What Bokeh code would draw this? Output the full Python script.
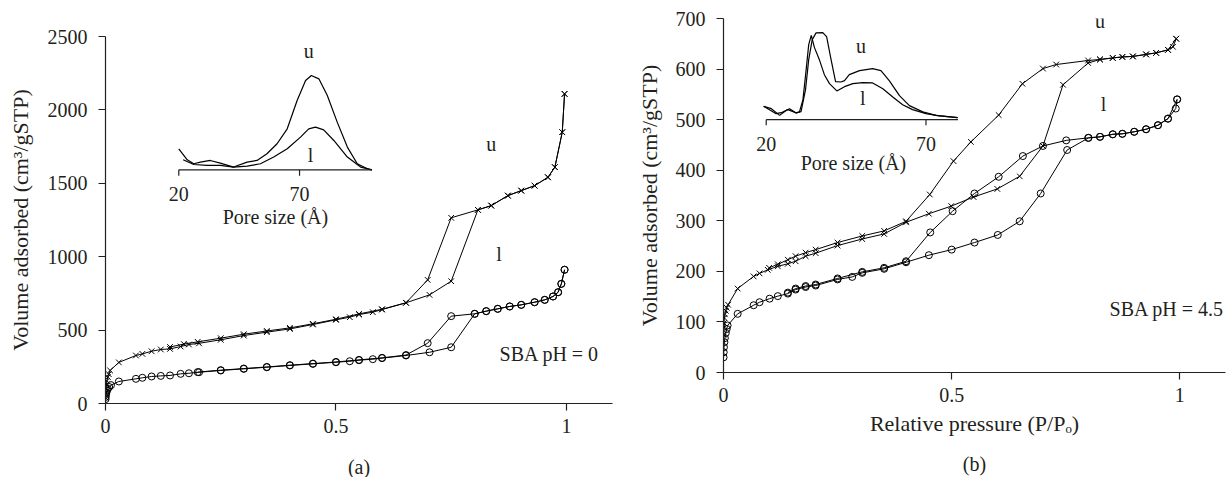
from bokeh.plotting import figure
from bokeh.models import Range1d, FixedTicker, LinearAxis
from bokeh.layouts import row
from bokeh.embed import file_html
from bokeh.resources import INLINE
from bokeh.core.properties import value

FONT = "Liberation Serif"
INK = "#231f20"
FS = "20px"
FS_AX = "22px"

# ---------------- data: panel (a) SBA pH = 0 ----------------
a_u_ads_x = [0.0002, 0.0005, 0.001, 0.002, 0.003, 0.005, 0.007, 0.01, 0.029, 0.066, 0.08, 0.1, 0.12, 0.14,
             0.163, 0.181, 0.203, 0.25, 0.3, 0.35, 0.4, 0.45, 0.5, 0.53, 0.55, 0.58, 0.6, 0.652, 0.703, 0.75,
             0.808, 0.837, 0.873, 0.902, 0.931, 0.96, 0.975, 0.991, 0.996]
a_u_ads_y = [40, 70, 100, 130, 155, 180, 200, 225, 280, 327, 338, 356, 368, 372,
             388, 402, 410, 434, 463, 486, 508, 538, 570, 588, 606, 622, 640, 686, 740, 833,
             1319, 1348, 1416, 1450, 1484, 1541, 1610, 1848, 2109]
a_u_des_x = [0.996, 0.991, 0.975, 0.96, 0.931, 0.902, 0.873, 0.837, 0.808, 0.75, 0.699, 0.652, 0.6,
             0.55, 0.5, 0.45, 0.4, 0.35, 0.3, 0.25, 0.2, 0.17, 0.14]
a_u_des_y = [2109, 1848, 1610, 1541, 1484, 1450, 1416, 1348, 1319, 1265, 842, 686, 642,
             610, 574, 543, 515, 494, 472, 445, 420, 405, 385]
a_l_ads_x = [0.0002, 0.0005, 0.001, 0.002, 0.003, 0.005, 0.008, 0.012, 0.029, 0.066, 0.08, 0.1, 0.12, 0.14,
             0.163, 0.181, 0.203, 0.25, 0.3, 0.35, 0.4, 0.45, 0.5, 0.53, 0.55, 0.58, 0.6, 0.652, 0.703, 0.75,
             0.801, 0.826, 0.851, 0.877, 0.902, 0.931, 0.953, 0.971, 0.982, 0.989, 0.996]
a_l_ads_y = [30, 45, 60, 75, 88, 100, 112, 125, 150, 168, 175, 184, 188, 191,
             202, 206, 213, 225, 236, 247, 259, 270, 281, 288, 295, 302, 309, 327, 349, 383,
             611, 629, 645, 661, 672, 690, 706, 729, 758, 815, 911]
a_l_des_x = [0.996, 0.989, 0.982, 0.971, 0.953, 0.931, 0.902, 0.877, 0.851, 0.826, 0.801, 0.75, 0.699,
             0.652, 0.6, 0.55, 0.5, 0.45, 0.4, 0.35, 0.3, 0.25, 0.2]
a_l_des_y = [911, 815, 758, 729, 706, 690, 672, 661, 645, 629, 611, 595, 411,
             330, 311, 297, 283, 272, 261, 249, 238, 227, 214]

# inset (a): pore size distribution (arbitrary units)
a_psd_u_x = [20, 23.5, 26.2, 29, 33, 37.2, 42.7, 48.3, 52.4, 56.5, 60.7, 64.9, 69, 72.5, 74.9, 78,
             81.5, 85.6, 89.8, 93.9, 98.1, 100]
a_psd_u_y = [0.223, 0.106, 0.064, 0.082, 0.099, 0.071, 0.029, 0.082, 0.099, 0.17, 0.276, 0.435, 0.735,
             0.947, 1.0, 0.965, 0.788, 0.506, 0.241, 0.064, 0.011, 0.0]
a_psd_l_x = [21.8, 26.2, 31.7, 37.2, 42.7, 48.3, 53.8, 59.3, 64.9, 70.4, 73.8, 76.6, 80, 84.2, 89.8,
             95.3, 100]
a_psd_l_y = [0.106, 0.056, 0.046, 0.046, 0.029, 0.039, 0.064, 0.135, 0.223, 0.347, 0.435, 0.453, 0.424,
             0.311, 0.135, 0.029, 0.0]

# ---------------- data: panel (b) SBA pH = 4.5 ----------------
b_u_ads_x = [0.0002, 0.0005, 0.001, 0.002, 0.003, 0.005, 0.007, 0.01, 0.031, 0.066, 0.079, 0.097, 0.119,
             0.141, 0.158, 0.18, 0.202, 0.25, 0.304, 0.352, 0.4, 0.45, 0.499, 0.548, 0.6, 0.649, 0.7, 0.744,
             0.799, 0.825, 0.853, 0.874, 0.897, 0.926, 0.948, 0.974, 0.985, 0.992]
b_u_ads_y = [75, 88, 98, 108, 115, 122, 128, 134, 166, 190, 196, 203, 210,
             215, 220, 230, 236, 251, 264, 274, 297, 314, 329, 347, 363, 388, 448, 569,
             612, 619, 622, 624, 625, 629, 632, 638, 644, 660]
b_u_des_x = [0.992, 0.974, 0.948, 0.926, 0.897, 0.874, 0.853, 0.825, 0.799, 0.729, 0.7, 0.655, 0.603,
             0.542, 0.504, 0.452, 0.4, 0.352, 0.304, 0.25, 0.202, 0.18, 0.158, 0.141, 0.119, 0.1]
b_u_des_y = [660, 638, 632, 629, 625, 624, 622, 619, 617, 609, 601, 571, 509,
             456, 418, 352, 299, 280, 270, 257, 243, 237, 230, 223, 214, 207]
b_l_ads_x = [0.0002, 0.0005, 0.001, 0.002, 0.003, 0.005, 0.007, 0.009, 0.031, 0.066, 0.079, 0.101, 0.119,
             0.141, 0.158, 0.18, 0.202, 0.25, 0.282, 0.304, 0.352, 0.4, 0.45, 0.5, 0.55, 0.601, 0.649,
             0.695, 0.753, 0.8, 0.825, 0.853, 0.874, 0.9, 0.926, 0.952, 0.974, 0.991, 0.994]
b_l_ads_y = [30, 40, 50, 60, 68, 78, 86, 93, 116, 133, 139, 146, 151,
             156, 164, 169, 172, 184, 189, 197, 205, 218, 232, 243, 257, 272, 299,
             354, 440, 464, 466, 471, 472, 476, 481, 489, 502, 522, 540]
b_l_des_x = [0.994, 0.974, 0.952, 0.926, 0.9, 0.874, 0.853, 0.825, 0.799, 0.751, 0.7, 0.656, 0.603,
             0.55, 0.502, 0.453, 0.4, 0.352, 0.304, 0.25, 0.202, 0.18, 0.158, 0.141]
b_l_des_y = [540, 502, 489, 481, 476, 472, 471, 466, 464, 459, 448, 428, 387,
             354, 319, 277, 220, 207, 199, 186, 174, 171, 166, 158]

# inset (b)
b_psd_u_x = [19.2, 20.5, 23.1, 24.7, 26.8, 29.4, 30.9, 32.3, 33.3, 34.4, 35.6, 37.7, 38.9, 40.3, 41.7,
             43.4, 44.5, 46, 49.2, 53.3, 55.9, 58.5, 61.7, 64.8, 69, 73.1, 79.9]
b_psd_u_y = [0.153, 0.126, 0.069, 0.08, 0.115, 0.077, 0.092, 0.345, 0.69, 0.92, 0.997, 1.0, 0.954, 0.69,
             0.437, 0.433, 0.448, 0.517, 0.563, 0.586, 0.563, 0.448, 0.276, 0.161, 0.089, 0.049, 0.023]
b_psd_l_x = [19.2, 21.6, 24.2, 26.3, 27.3, 29.4, 30.4, 31.5, 32.5, 33.3, 34.1, 35.1, 36.7, 38.2, 39.8,
             42.1, 44.5, 47.1, 50.2, 53.3, 56.5, 59.6, 62.7, 65.8, 70, 74.2, 79.9]
b_psd_l_y = [0.153, 0.126, 0.049, 0.107, 0.126, 0.077, 0.089, 0.23, 0.575, 0.862, 0.969, 0.828, 0.682,
             0.517, 0.414, 0.33, 0.379, 0.414, 0.425, 0.422, 0.356, 0.261, 0.172, 0.115, 0.069, 0.043, 0.023]

x_ticks = [0, 0.5, 1]
x_tick_labels = {0: "0", 0.5: "0.5", 1: "1"}
a_y_ticks = [0, 500, 1000, 1500, 2000, 2500]
b_y_ticks = [0, 100, 200, 300, 400, 500, 600, 700]
inset_ticks = [20, 70]
inset_tick_labels = ["20", "70"]
a_inset_span = [20, 100]
b_inset_span = [20, 80]


def style_axes(p, ylabel, xlabel, ylab_standoff, xlab_size, xlab_standoff):
    p.outline_line_color = None
    p.grid.visible = False
    p.background_fill_color = "white"
    for ax in (p.xaxis[0], p.yaxis[0]):
        ax.axis_line_color = INK
        ax.axis_line_width = 1.2
        ax.major_tick_line_color = INK
        ax.major_tick_line_width = 1.2
        ax.major_tick_in = 0
        ax.major_tick_out = 7
        ax.minor_tick_line_color = None
        ax.major_label_text_font = FONT
        ax.major_label_text_font_size = FS
        ax.major_label_text_color = INK
        ax.axis_label_text_font = FONT
        ax.axis_label_text_font_size = FS_AX
        ax.axis_label_text_font_style = "normal"
        ax.axis_label_text_color = INK
    p.xaxis.ticker = FixedTicker(ticks=x_ticks)
    p.xaxis.major_label_overrides = x_tick_labels
    p.xaxis.major_label_standoff = 8
    p.yaxis.major_label_standoff = 11
    p.yaxis.axis_label = ylabel
    p.yaxis.axis_label_standoff = ylab_standoff
    p.xaxis.axis_label = xlabel
    p.xaxis.axis_label_text_font_size = xlab_size
    p.xaxis.axis_label_standoff = xlab_standoff


def draw_series(p, x, y, marker):
    p.line(x, y, line_color="black", line_width=1)
    if marker == "x":
        p.scatter(x, y, marker="x", size=8, line_color="black", line_width=1)
    else:
        p.scatter(x, y, marker="circle", size=7, line_color="black", line_width=1, fill_alpha=0)


def txt(p, x, y, s, align="center", xr="default", yr="default"):
    p.text(x=[x], y=[y], text=[s], text_font=value(FONT), text_font_size=FS, text_color=INK,
           text_align=align, text_baseline="middle", x_range_name=xr, y_range_name=yr)


def add_inset(p, xmax, ymax, px0, px1, base, hunit, span, curves, u_pos, l_pos, tick_y, lab_pos, tick_len):
    # inset pore size mapped onto main x: 20 -> px0, 70 -> px1 ; intensity 0 -> base, 1 -> base + hunit
    k = (inset_ticks[1] - inset_ticks[0]) / (px1 - px0)
    xs = inset_ticks[0] - px0 * k
    p.extra_x_ranges = {"pore": Range1d(xs, xs + xmax * k)}
    p.extra_y_ranges = {"psd": Range1d(-base / hunit, (ymax - base) / hunit)}
    for cx, cy in curves:
        p.line(cx, cy, line_color="black", line_width=1.2, x_range_name="pore", y_range_name="psd")
    p.segment(x0=[span[0]], y0=[0], x1=[span[1]], y1=[0], line_color=INK, line_width=1.2,
              x_range_name="pore", y_range_name="psd")
    p.segment(x0=inset_ticks, y0=[0] * len(inset_ticks), x1=inset_ticks, y1=[-tick_len] * len(inset_ticks),
              line_color=INK, line_width=1.2, x_range_name="pore", y_range_name="psd")
    for t, s in zip(inset_ticks, inset_tick_labels):
        txt(p, t, tick_y, s, xr="pore", yr="psd")
    txt(p, lab_pos[0], lab_pos[1], "Pore size (\u00c5)", xr="pore", yr="psd")
    txt(p, u_pos[0], u_pos[1], "u", xr="pore", yr="psd")
    txt(p, l_pos[0], l_pos[1], "l", xr="pore", yr="psd")


# ---------------- panel (a) ----------------
pa = figure(frame_width=507, frame_height=367, x_range=Range1d(0, 1.1), y_range=Range1d(0, 2500),
            output_backend="svg", toolbar_location=None, frame_align=False,
            min_border_left=105, min_border_right=21, min_border_top=36, min_border_bottom=74)
style_axes(pa, "Volume adsorbed (cm\u00b3/gSTP)", "(a)", 12, FS, 20)
pa.yaxis.ticker = FixedTicker(ticks=a_y_ticks)
draw_series(pa, a_u_ads_x, a_u_ads_y, "x")
draw_series(pa, a_u_des_x, a_u_des_y, "x")
draw_series(pa, a_l_ads_x, a_l_ads_y, "o")
draw_series(pa, a_l_des_x, a_l_des_y, "o")
txt(pa, 0.855, 334, "SBA pH = 0", align="left")
txt(pa, 0.837, 1771, "u")
txt(pa, 0.854, 1021, "l")
add_inset(pa, 1.1, 2500, 0.159, 0.421, 1592, 642,
          a_inset_span, [(a_psd_u_x, a_psd_u_y), (a_psd_l_x, a_psd_l_y)],
          (73.8, 1.265), (74.6, 0.152), -0.262, (60, -0.506), 0.064)

# ---------------- panel (b) ----------------
pb = figure(frame_width=502, frame_height=354, x_range=Range1d(0, 1.1), y_range=Range1d(0, 700),
            output_backend="svg", toolbar_location=None, frame_align=False,
            min_border_left=84, min_border_right=2, min_border_top=18, min_border_bottom=105)
style_axes(pb, "Volume adsorbed (cm\u00b3/gSTP)", "Relative pressure (P/P\u2092)", 11, FS_AX, 6)
pb.yaxis.ticker = FixedTicker(ticks=b_y_ticks)
# second, tick-less axis below carrying the panel tag
tag_axis = LinearAxis(ticker=FixedTicker(ticks=[]), axis_line_color=None, major_tick_line_color=None,
                      minor_tick_line_color=None, major_tick_out=0, major_tick_in=0, major_label_standoff=0,
                      axis_label="(b)", axis_label_standoff=14, axis_label_text_font=FONT,
                      axis_label_text_font_size=FS, axis_label_text_font_style="normal",
                      axis_label_text_color=INK)
pb.add_layout(tag_axis, "below")
draw_series(pb, b_u_ads_x, b_u_ads_y, "x")
draw_series(pb, b_u_des_x, b_u_des_y, "x")
draw_series(pb, b_l_ads_x, b_l_ads_y, "o")
draw_series(pb, b_l_des_x, b_l_des_y, "o")
txt(pb, 1.097, 125, "SBA pH = 4.5", align="right")
txt(pb, 0.825, 696, "u")
txt(pb, 0.833, 531, "l")
add_inset(pb, 1.1, 700, 0.0936, 0.4437, 500, 172,
          b_inset_span, [(b_psd_u_x, b_psd_u_y), (b_psd_l_x, b_psd_l_y)],
          (49.7, 0.843), (50.2, 0.245), -0.276, (47.3, -0.502), 0.064)

layout = row(pa, pb)
open("out.html", "w").write(file_html(layout, INLINE))
